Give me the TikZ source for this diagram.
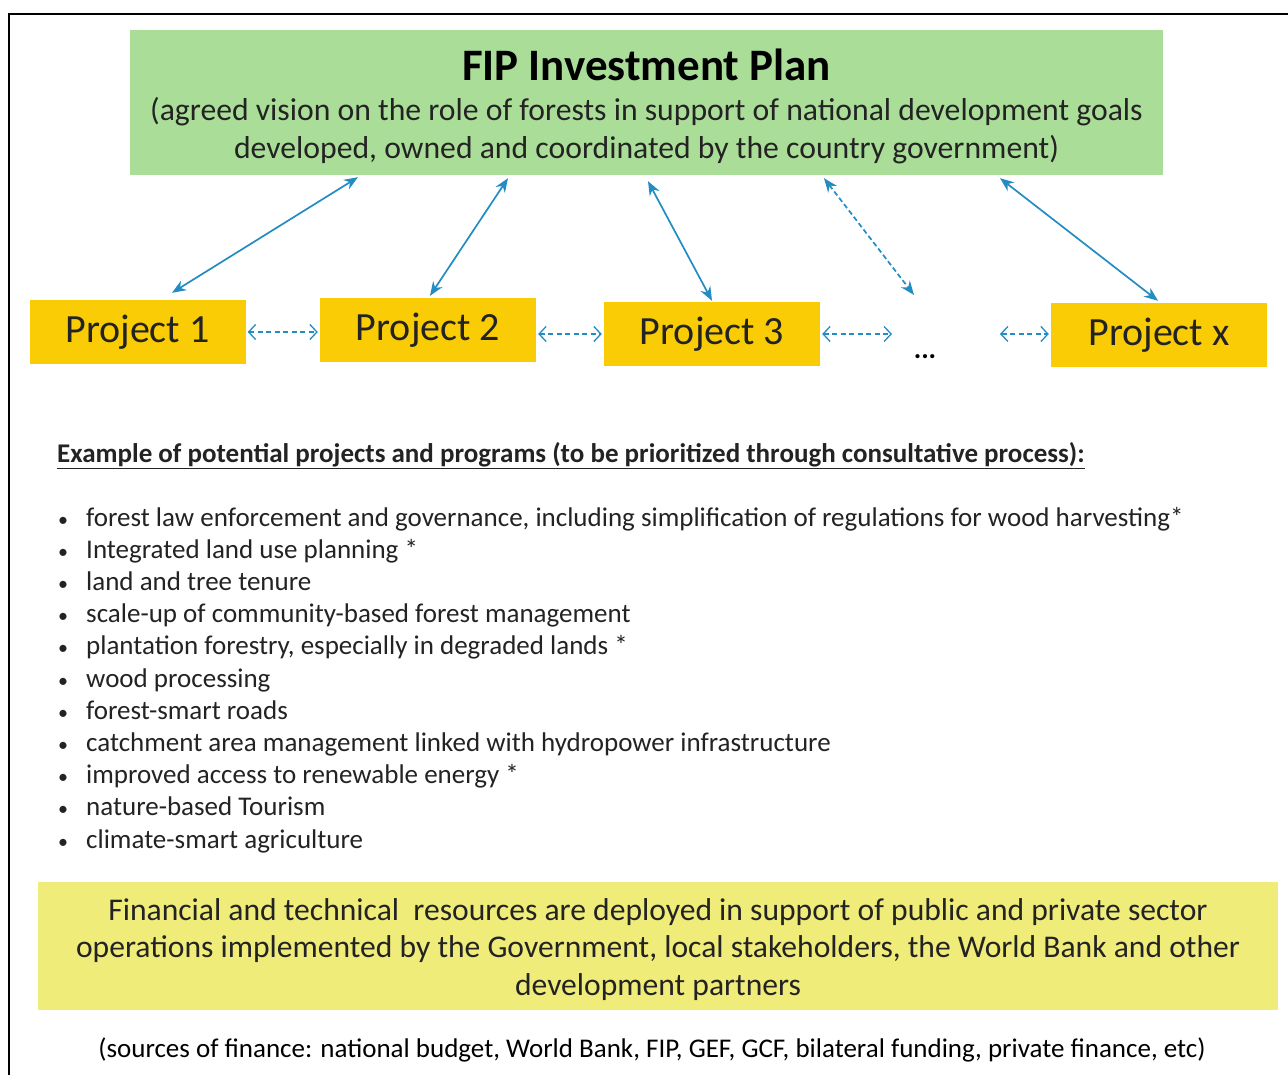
\documentclass[tikz,border=0pt]{standalone}
\usepackage{fontspec}
\setmainfont{Carlito}
\usetikzlibrary{arrows.meta}
\definecolor{plangreen}{RGB}{170,222,152}
\definecolor{projgold}{RGB}{250,204,5}
\definecolor{finyellow}{RGB}{240,236,122}
\definecolor{arrowblue}{RGB}{35,140,195}
\definecolor{txt}{RGB}{35,35,35}
\begin{document}
\begin{tikzpicture}[x=1pt,y=-1pt,
  projbox/.style={fill=projgold, minimum width=216pt, minimum height=64pt, inner sep=0pt, font=\fontsize{40}{46}\selectfont, text=txt},
  link/.style={arrowblue, line width=1.7pt, {Stealth[length=14pt,width=11pt]}-{Stealth[length=14pt,width=11pt]}},
  peer/.style={arrowblue, line width=1.3pt, dash pattern=on 5pt off 3.5pt, {Straight Barb[length=7pt,width=15pt]}-{Straight Barb[length=7pt,width=15pt]}, shorten <=2pt, shorten >=2pt},
  txtline/.style={anchor=base, inner sep=0pt, text=txt},
  item/.style={anchor=base west, inner sep=0pt, font=\fontsize{27}{32}\selectfont, text=txt},
]
\useasboundingbox (0,0) rectangle (1288,1075);
\fill[white] (0,0) rectangle (1288,1075);
\draw[line width=2pt] (9,1075) -- (9,14) -- (1288,14);

% plan box
\node[fill=plangreen, minimum width=1033pt, minimum height=145pt, inner sep=0pt] (plan) at (646.5,102.5) {};
\node[txtline, font=\fontsize{45}{50}\selectfont\bfseries, text=black] (title) at (646.5,81) {FIP Investment Plan};
\node[txtline, font=\fontsize{31.7}{36}\selectfont] (sub1) at (646.5,121) {(agreed vision on the role of forests in support of national development goals};
\node[txtline, font=\fontsize{31.7}{36}\selectfont] (sub2) at (646.5,159) {developed, owned and coordinated by the country government)};

% projects
\node[projbox] (p1) at (137.5,332) {Project 1};
\node[projbox] (p2) at (428,330) {Project 2};
\node[projbox] (p3) at (712,334) {Project 3};
\node[projbox] (px) at (1159,335) {Project x};
\node[txtline, font=\fontsize{28}{30}\selectfont\bfseries, text=black] (dots) at (925,359) {...};
\coordinate (d3) at (894,334);
\coordinate (d4) at (998,334);
\coordinate (dtop) at (914,295);

% links to plan
\draw[link] ([xshift=-288.5pt,yshift=-2pt]plan.south) -- ([xshift=34.5pt,yshift=7pt]p1.north);
\draw[link] ([xshift=-138.5pt,yshift=-3pt]plan.south) -- ([xshift=2pt,yshift=2pt]p2.north);
\draw[link] ([xshift=1.5pt,yshift=-6pt]plan.south) -- ([yshift=1pt]p3.north);
\draw[link, dash pattern=on 5pt off 3pt] ([xshift=177.5pt,yshift=-3pt]plan.south) -- (dtop);
\draw[link] ([xshift=353.5pt,yshift=-3pt]plan.south) -- ([xshift=-1pt,yshift=2pt]px.north);

% peer links
\draw[peer] (p1.east) -- (p1.east -| p2.west);
\draw[peer] ([yshift=-4pt]p2.east) -- ([yshift=-4pt]p2.east -| p3.west);
\draw[peer] (p3.east) -- (p3.east -| d3);
\draw[peer] (d4) -- (d4 -| px.west);

% list
\node[anchor=base west, inner sep=0pt, font=\fontsize{27}{32}\selectfont\bfseries, text=txt] (head) at (57,462) {\underline{Example of potential projects and programs (to be prioritized through consultative process):}};
\foreach \t [count=\i] in {
  {forest law enforcement and governance, including simplification of regulations for wood harvesting*},
  {Integrated land use planning *},
  {land and tree tenure},
  {scale-up of community-based forest management},
  {plantation forestry, especially in degraded lands *},
  {wood processing},
  {forest-smart roads},
  {catchment area management linked with hydropower infrastructure},
  {improved access to renewable energy *},
  {nature-based Tourism},
  {climate-smart agriculture}} {
  \node[item, font=\fontsize{20}{24}\selectfont] (bul\i) at (58,{526+32.2*(\i-1)}) {•};
  \node[item] (item\i) at (86,{526+32.2*(\i-1)}) {\t};
}

% finance box
\node[fill=finyellow, minimum width=1240pt, minimum height=128pt, inner sep=0pt] (fin) at (658,946) {};
\node[txtline, font=\fontsize{31.6}{36}\selectfont] (fin1) at (658,920) {Financial and technical\ \ resources are deployed in support of public and private sector};
\node[txtline, font=\fontsize{31.6}{36}\selectfont] (fin2) at (658,957) {operations implemented by the Government, local stakeholders, the World Bank and other};
\node[txtline, font=\fontsize{31.6}{36}\selectfont] (fin3) at (658,995) {development partners};

\node[txtline, font=\fontsize{27}{30}\selectfont, text=black] (src) at (652,1057) {(sources of finance: national budget, World Bank, FIP, GEF, GCF, bilateral funding, private finance, etc)};
\end{tikzpicture}
\end{document}
